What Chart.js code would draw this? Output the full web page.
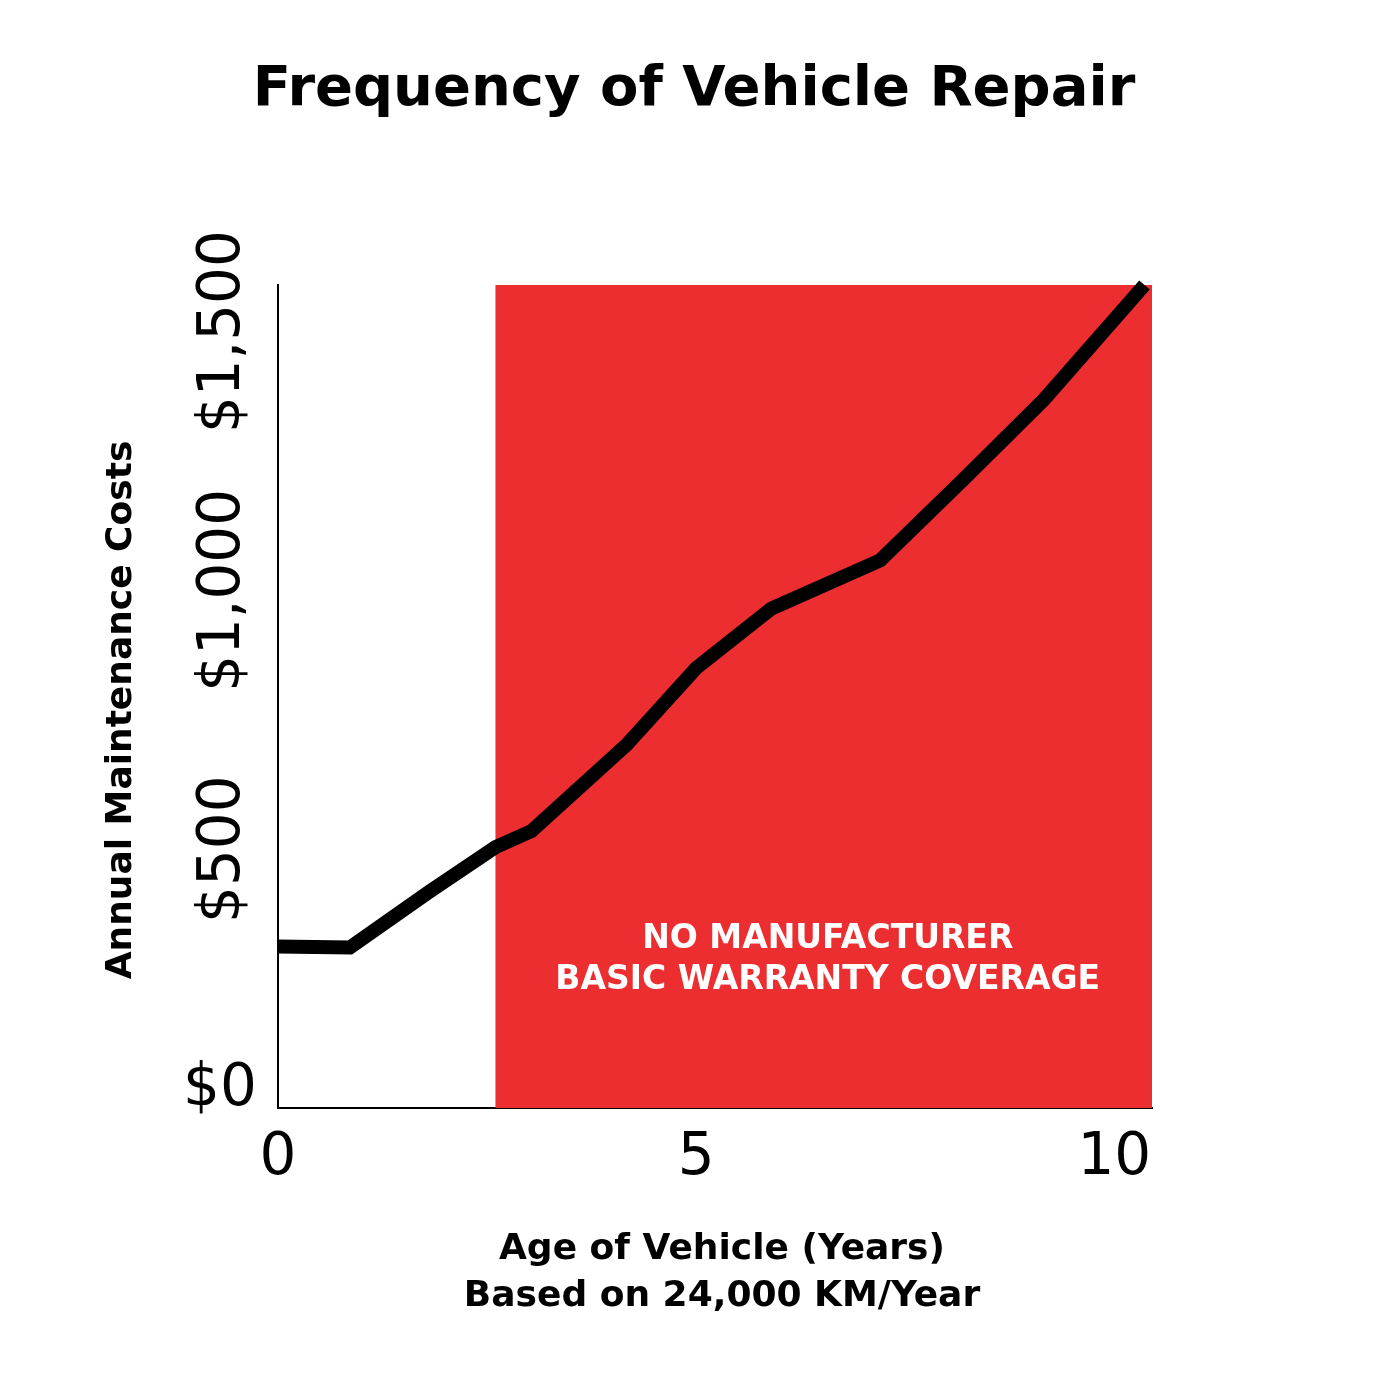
<!DOCTYPE html>
<html>
<head>
<meta charset="utf-8">
<script src="https://cdn.jsdelivr.net/npm/chart.js@4"></script>
<style>
  html, body { margin: 0; padding: 0; background: #fff; }
  #wrap { width: 1389px; height: 1389px; }
</style>
</head>
<body>
<div id="wrap"><canvas id="repairChart" width="1389" height="1389"></canvas></div>
<script>
  // data
  const ages = [0, 0.86, 1.8, 2.6, 3.03, 4.17, 5.0, 5.9, 7.2, 8.2, 9.16, 10.36];
  const costs = [312, 310, 417, 504, 535, 702, 850, 965, 1058, 1215, 1369, 1590];
  const xTicks = [0, 5, 10];
  const yTicks = [0, 500, 1000, 1500];
  const yTickLabels = ["$0", "$500", "$1,000", "$1,500"];
  const warrantyEnd = 2.6;
  const noteLines = ["NO MANUFACTURER", "BASIC WARRANTY COVERAGE"];
  const xTitleLines = ["Age of Vehicle (Years)", "Based on 24,000 KM/Year"];

  const FONT = "'DejaVu Sans', Verdana, sans-serif";

  // red zone behind the line
  const zonePlugin = {
    id: "zone",
    beforeDatasetsDraw(chart) {
      const { ctx, chartArea, scales } = chart;
      const x0 = scales.x.getPixelForValue(warrantyEnd);
      ctx.save();
      ctx.fillStyle = "#ed2e30";
      ctx.fillRect(x0, chartArea.top, chartArea.right - x0, chartArea.bottom - chartArea.top);
      ctx.fillStyle = "#fff";
      ctx.font = "bold 33px " + FONT;
      ctx.textAlign = "center";
      ctx.textBaseline = "middle";
      const cx = (x0 + chartArea.right) / 2 + 4;
      ctx.fillText(noteLines[0], cx, 939);
      ctx.fillText(noteLines[1], cx, 980);
      ctx.restore();
    }
  };

  // titles and rotated y labels
  const textPlugin = {
    id: "texts",
    afterDraw(chart) {
      const { ctx, scales } = chart;
      ctx.save();
      ctx.fillStyle = "#000";
      ctx.textAlign = "center";
      ctx.textBaseline = "middle";
      ctx.font = "bold 56px " + FONT;
      ctx.fillText("Frequency of Vehicle Repair", 694, 90);

      ctx.font = "bold 36px " + FONT;
      ctx.fillText(xTitleLines[0], 722, 1250);
      ctx.fillText(xTitleLines[1], 722, 1297);

      ctx.save();
      ctx.translate(122, 710);
      ctx.rotate(-Math.PI / 2);
      ctx.fillText("Annual Maintenance Costs", 0, 0);
      ctx.restore();

      ctx.font = "58px " + FONT;
      yTicks.forEach((v, i) => {
        const py = scales.y.getPixelForValue(v);
        if (v === 0) {
          ctx.fillText(yTickLabels[i], 220, py - 18);
        } else {
          ctx.save();
          ctx.translate(224, py);
          ctx.rotate(-Math.PI / 2);
          ctx.fillText(yTickLabels[i], 0, 0);
          ctx.restore();
        }
      });
      ctx.restore();
    }
  };

  new Chart(document.getElementById("repairChart"), {
    type: "line",
    data: {
      datasets: [{
        data: ages.map((a, i) => ({ x: a, y: costs[i] })),
        borderColor: "#000",
        borderWidth: 14,
        pointRadius: 0,
        tension: 0,
        borderJoinStyle: "miter",
        clip: false
      }]
    },
    options: {
      responsive: false,
      animation: false,
      layout: { padding: { top: 285, right: 237, left: 0, bottom: 0 } },
      plugins: { legend: { display: false }, tooltip: { enabled: false } },
      scales: {
        x: {
          type: "linear",
          min: 0,
          max: 10.45,
          afterBuildTicks: s => { s.ticks = xTicks.map(v => ({ value: v })); },
          afterFit: s => { s.height = 1389 - 1108; },
          grid: { display: false, drawTicks: false },
          border: { color: "#000", width: 2 },
          ticks: { color: "#000", font: { family: FONT, size: 58 }, padding: 16, maxRotation: 0 }
        },
        y: {
          min: 0,
          max: 1590,
          afterBuildTicks: s => { s.ticks = yTicks.map(v => ({ value: v })); },
          afterFit: s => { s.width = 278; },
          grid: { display: false, drawTicks: false },
          border: { color: "#000", width: 2 },
          ticks: { display: false }
        }
      }
    },
    plugins: [zonePlugin, textPlugin]
  });
</script>
</body>
</html>
